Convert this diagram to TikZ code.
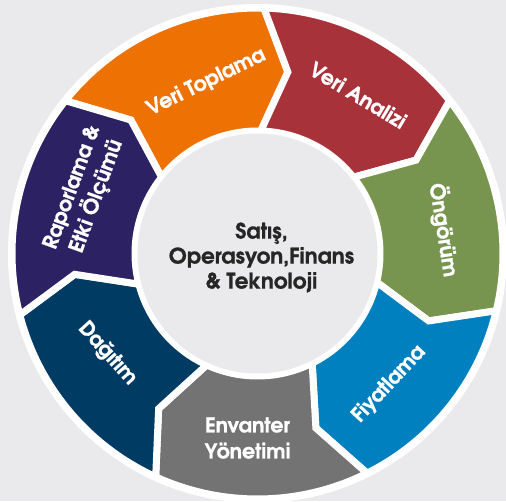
\documentclass[tikz,border=0pt]{standalone}
\usepackage{fontspec}
\setmainfont{texgyreadventor}[Extension=.otf, UprightFont=*-regular,
  BoldFont=*-bold, BoldFeatures={FakeBold=0.8}]

\definecolor{bgc}{HTML}{EAEAEC}
\definecolor{cOrange}{HTML}{EE7203}
\definecolor{cRed}{HTML}{A8323A}
\definecolor{cGreen}{HTML}{77954E}
\definecolor{cBlue}{HTML}{0080BE}
\definecolor{cGray}{HTML}{737373}
\definecolor{cNavy}{HTML}{003B64}
\definecolor{cPurple}{HTML}{2B2163}
\definecolor{txtc}{HTML}{262626}

% ring geometry (pt)
\def\Ro{245.5pt}
\def\Ri{122.5pt}
\def\Rm{184pt}
\def\dd{8}

% chevron ring segment: #1 colour, #2 notch-side angle, #3 tip-side angle
\newcommand{\ringseg}[3]{%
  \fill[#1, draw=white, line width=7pt, line join=miter]
    (#2:\Ro) arc[start angle=#2, end angle=#3, radius=\Ro]
    -- (#3-\dd:\Rm) -- (#3:\Ri)
    arc[start angle=#3, end angle=#2, radius=\Ri]
    -- (#2-\dd:\Rm) -- cycle;}

\tikzset{
  seglabel/.style={text=white, font=\bfseries\fontsize{20.5}{26}\selectfont,
    align=center, inner sep=0pt},
  hublabel/.style={text=txtc, font=\bfseries\fontsize{21.5}{25}\selectfont,
    align=center, inner sep=0pt}
}

\begin{document}
\begin{tikzpicture}
  \useasboundingbox (-257.5pt,-247.5pt) rectangle (248.5pt,253.5pt);
  \fill[bgc] (-257.5pt,-247.5pt) rectangle (248.5pt,253.5pt);

  % white base disc
  \fill[white] (0,0) circle (249.5pt);

  % the seven steps, clockwise
  \ringseg{cOrange}{141.5}{88.5}
  \ringseg{cRed}{88.5}{38.5}
  \ringseg{cGreen}{38.5}{-13.5}
  \ringseg{cBlue}{-13.5}{-63.5}
  \ringseg{cGray}{-63.5}{-114.5}
  \ringseg{cNavy}{-114.5}{-165.5}
  \ringseg{cPurple}{194.5}{141.5}

  % hub
  \fill[bgc] (0,0) circle (120pt);
  \node[hublabel] (hub) at (4pt,-4pt) {Satış,\\Operasyon,Finans\\\& Teknoloji};

  % step labels
  \node[seglabel, rotate=26]  (toplama) at (106.7:179pt) {Veri Toplama};
  \node[seglabel, rotate=-31] (analiz)  at (57.6:187.7pt) {Veri Analizi};
  \node[seglabel, rotate=-81] (ongorum) at (7.2:188pt) {Öngörüm};
  \node[seglabel, rotate=47]  (fiyat)   at (-44.8:185pt) {Fiyatlama};
  \node[seglabel, rotate=0]   (envanter) at (-93.1:184.8pt) {Envanter\\Yönetimi};
  \node[seglabel, rotate=-48] (dagitim) at (-146.3:180.3pt) {Dağıtım};
  \node[seglabel, rotate=70]  (rapor)   at (160.4:183.1pt) {Raporlama \&\\Etki Ölçümü};
\end{tikzpicture}
\end{document}
